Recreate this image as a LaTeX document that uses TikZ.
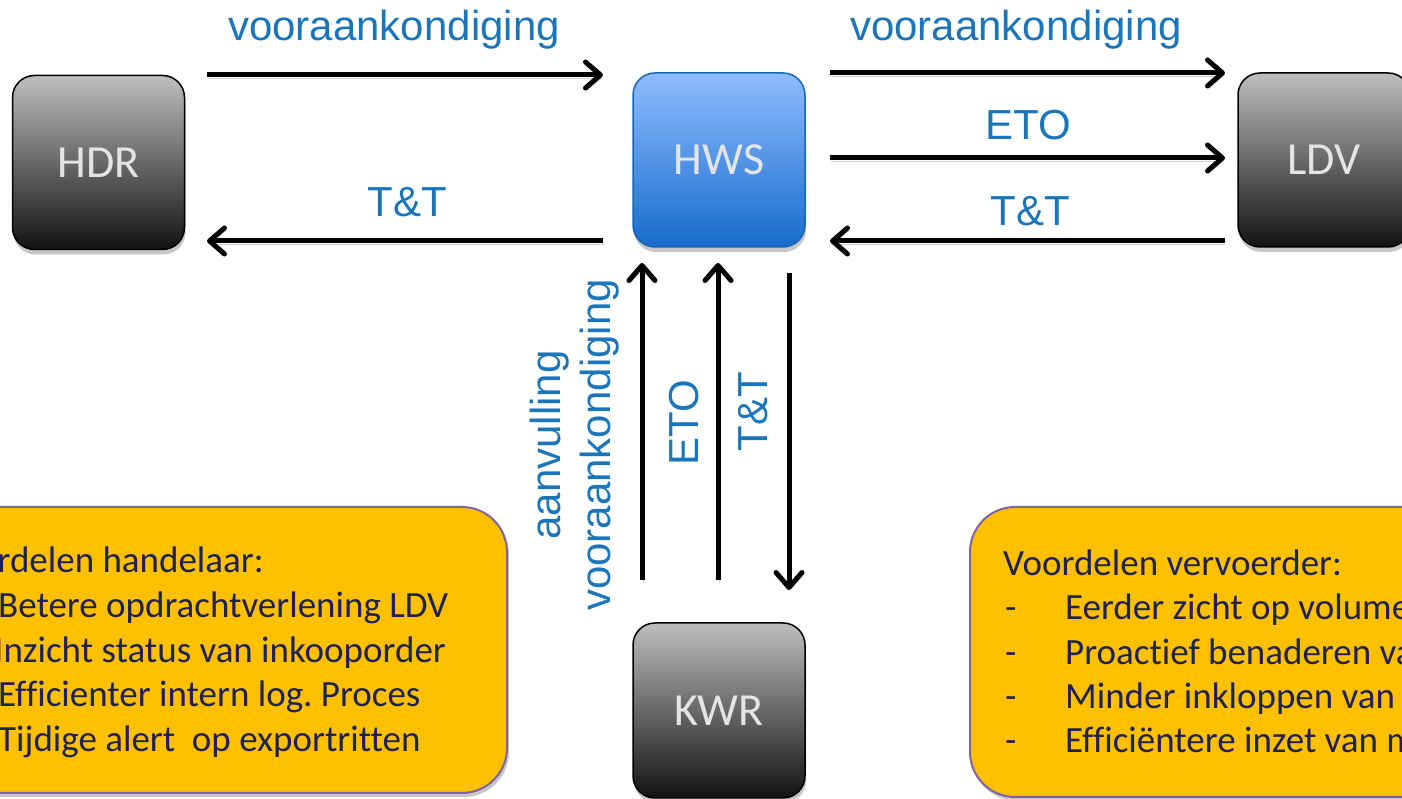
\documentclass[tikz,border=0pt]{standalone}
\usepackage{fontspec}
\setmainfont{Carlito}[Ligatures={NoCommon,NoRare}]
\newfontfamily\arialfont{Liberation Sans}
\usetikzlibrary{arrows.meta,shadows,calc}
\definecolor{lblblue}{RGB}{27,117,187}
\definecolor{boxyellow}{RGB}{255,192,0}
\definecolor{boxborder}{RGB}{125,100,165}
\definecolor{navytext}{RGB}{31,33,80}
\definecolor{hwsTop}{RGB}{143,188,255}
\definecolor{hwsBot}{RGB}{22,108,204}
\definecolor{hwsBorder}{RGB}{21,102,181}
\definecolor{grayTop}{RGB}{190,190,190}
\definecolor{grayBot}{RGB}{18,18,18}
\definecolor{sysText}{RGB}{228,228,228}
\frenchspacing
\begin{document}
\begin{tikzpicture}[x=1pt,y=1pt,
  sysbox/.style={rounded corners=22pt, minimum width=172pt, minimum height=174pt,
    inner sep=0pt, font=\fontsize{46}{55}\selectfont, text=sysText, line width=1.5pt,
    drop shadow={shadow xshift=1pt, shadow yshift=-5pt, opacity=0.22, fill=black}},
  graybox/.style={sysbox, draw=black, top color=grayTop, bottom color=grayBot},
  bluebox/.style={sysbox, draw=hwsBorder, top color=hwsTop, bottom color=hwsBot},
  flow/.style={line width=5pt, -{Straight Barb[length=15pt,width=26pt,line cap=round,line join=round]},
    preaction={draw=black, opacity=0.18, transform canvas={shift={(1pt,-3pt)}}}},
  lbl/.style={font=\arialfont\fontsize{42}{50}\selectfont, text=lblblue, inner sep=0pt},
  note/.style={rounded corners=45pt, fill=boxyellow, draw=boxborder, line width=2pt, inner sep=0pt,
    drop shadow={shadow xshift=2pt, shadow yshift=-4pt, opacity=0.22, fill=black}},
  notetext/.style={font=\fontsize{37}{45}\selectfont, text=navytext, inner sep=0pt, anchor=base west}
]
\clip (0,0) rectangle (1402,799);
\fill[white] (0,0) rectangle (1402,799);

% system boxes
\node[graybox] (HDR) at (98.5,636.5) {HDR};
\node[bluebox] (HWS) at (719,639) {HWS};
\node[graybox] (LDV) at (1324,639) {LDV};
\node[graybox, minimum height=175pt] (KWR) at (719,88.5) {KWR};

% connector end points
\coordinate (a1s) at (207,724); \coordinate (a1e) at (603,724);
\coordinate (a2s) at (603,558); \coordinate (a2e) at (207,558);
\coordinate (a3s) at (830,726); \coordinate (a3e) at (1225,726);
\coordinate (a4s) at (830,641); \coordinate (a4e) at (1225,641);
\coordinate (a5s) at (1225,558); \coordinate (a5e) at (830,558);
\coordinate (v1s) at (642,219); \coordinate (v1e) at (642,536);
\coordinate (v2s) at (718,219); \coordinate (v2e) at (718,536);
\coordinate (v3s) at (789,526); \coordinate (v3e) at (789,209);

\draw[flow] (a1s) -- (a1e);
\draw[flow] (a2s) -- (a2e);
\draw[flow] (a3s) -- (a3e);
\draw[flow] (a4s) -- (a4e);
\draw[flow] (a5s) -- (a5e);
\draw[flow] (v1s) -- (v1e);
\draw[flow] (v2s) -- (v2e);
\draw[flow] (v3s) -- (v3e);

% labels
\node[lbl, anchor=base] (l1) at (394,758) {vooraankondiging};
\node[lbl, anchor=base] (l2) at (1016,758) {vooraankondiging};
\node[lbl, anchor=base] (l3) at (1028,659) {ETO};
\node[lbl, anchor=base] (l4) at (407,582) {T\&T};
\node[lbl, anchor=base] (l5) at (1030,573) {T\&T};
\node[lbl, rotate=90, align=center] (l6) at (575,354) {aanvulling\\vooraankondiging};
\node[lbl, rotate=90] (l7) at (684,376) {ETO};
\node[lbl, rotate=90] (l8) at (753,387) {T\&T};

% note boxes
\node[note, minimum width=597pt, minimum height=286pt] (NL) at (208.5,149) {};
\node[note, minimum width=600pt, minimum height=290pt] (NR) at (1270,147) {};

\node[notetext] (t0) at (-61,226) {Voordelen handelaar:};
\node[notetext] (t1) at (-2,181) {Betere opdrachtverlening LDV};
\node[notetext] (t2) at (-6,136) {Inzicht status van inkooporder};
\node[notetext] (t3) at (-2,92) {Efficienter intern log. Proces};
\node[notetext] (t4) at (-2,47) {Tijdige alert\ \ op exportritten};

\node[notetext] (r0) at (1003,223) {Voordelen vervoerder:};
\node[notetext] (d1) at (1005,179) {-};
\node[notetext] (d2) at (1005,134.5) {-};
\node[notetext] (d3) at (1005,90) {-};
\node[notetext] (d4) at (1005,46) {-};
\node[notetext] (r1) at (1065,179) {Eerder zicht op volume};
\node[notetext] (r2) at (1065,134.5) {Proactief benaderen va};
\node[notetext] (r3) at (1065,90) {Minder inkloppen van};
\node[notetext] (r4) at (1065,46) {Efficiëntere inzet van m};
\end{tikzpicture}
\end{document}
